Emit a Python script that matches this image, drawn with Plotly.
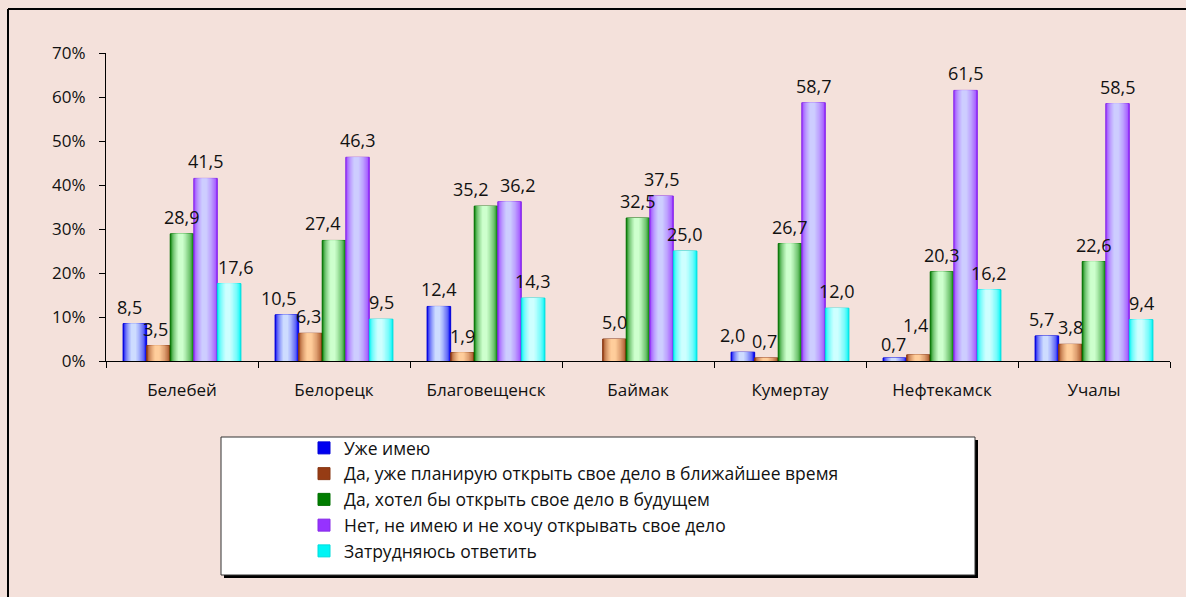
import plotly.graph_objects as go

# ---- data ----
categories = ["Белебей", "Белорецк", "Благовещенск", "Баймак", "Кумертау", "Нефтекамск", "Учалы"]
series_names = [
    "Уже имею",
    "Да, уже планирую открыть свое дело в ближайшее время",
    "Да, хотел бы открыть свое дело в будущем",
    "Нет, не имею и не хочу открывать свое дело",
    "Затрудняюсь ответить",
]
already_have = [8.5, 10.5, 12.4, None, 2.0, 0.7, 5.7]
planning_soon = [3.5, 6.3, 1.9, 5.0, 0.7, 1.4, 3.8]
would_like_future = [28.9, 27.4, 35.2, 32.5, 26.7, 20.3, 22.6]
no_dont_want = [41.5, 46.3, 36.2, 37.5, 58.7, 61.5, 58.5]
hard_to_say = [17.6, 9.5, 14.3, 25.0, 12.0, 16.2, 9.4]
series_values = [already_have, planning_soon, would_like_future, no_dont_want, hard_to_say]
y_ticks = [0, 10, 20, 30, 40, 50, 60, 70]

# ---- style ----
edge_colors = [(0, 0, 240), (150, 60, 20), (0, 125, 0), (150, 50, 255), (0, 245, 245)]
center_colors = [(205, 220, 255), (255, 205, 155), (205, 255, 205), (205, 205, 255), (205, 255, 255)]
BG = "#F4E1DB"
FONT = "'Open Sans', 'Liberation Sans', Arial, sans-serif"
# label nudges in pixels: (series index, category index) -> (dx, dy)
label_nudge = {
    (0, 0): (-5, 0), (1, 0): (-3, 0), (4, 0): (7, 0),
    (0, 1): (-8, 0), (1, 1): (-2, 0), (2, 1): (-11, 0),
    (2, 2): (-15, 0), (3, 2): (8, 0),
    (0, 4): (-10, 0), (1, 4): (-2, 0),
    (0, 5): (-1, -3), (1, 5): (-3, 13),
    (0, 6): (-5, 0),
}

W, H = 1186, 597
ML, MR, MT, MB = 106, 16, 53, 236
PW, PH = W - ML - MR, H - MT - MB


def px_x(p):
    return (p - ML) / PW


def px_y(p):
    return (H - MB - p) / PH


def mix(c1, c2, t):
    return "rgb(%d,%d,%d)" % tuple(round(a + (b - a) * t) for a, b in zip(c1, c2))


def fmt(v):
    return f"{v:.1f}".replace(".", ",")


n_series = len(series_values)
bar_w = 0.155
group_w = bar_w * n_series
N_LAYERS = 9

fig = go.Figure()
for i, vals in enumerate(series_values):
    off0 = -group_w / 2 + i * bar_w
    for k in range(N_LAYERS):
        frac = 1 - 0.88 * k / N_LAYERS
        wk = bar_w * frac
        shift = -0.06 * bar_w * (k / N_LAYERS)
        offk = off0 + (bar_w - wk) / 2 + shift
        t = (k / (N_LAYERS - 1)) ** 0.55
        fig.add_trace(go.Bar(
            x=categories, y=vals,
            name=series_names[i],
            width=[wk] * len(categories),
            offset=[offk] * len(categories),
            marker=dict(color=mix(edge_colors[i], center_colors[i], t),
                        line=dict(color=mix(edge_colors[i], (0, 0, 0), 0.1) if k == 0 else "rgba(0,0,0,0)",
                                  width=1 if k == 0 else 0)),
            showlegend=(k == 0),
            legendgroup=str(i),
            hoverinfo="skip",
        ))

annotations = []
for i, vals in enumerate(series_values):
    center_off = -group_w / 2 + (i + 0.5) * bar_w
    for j, v in enumerate(vals):
        if v is None:
            continue
        dx, dy = label_nudge.get((i, j), (0, 0))
        annotations.append(dict(
            x=j + center_off, y=v, xref="x", yref="y",
            text=fmt(v), showarrow=False, yanchor="bottom", xanchor="center",
            xshift=dx, yshift=3 + dy,
            font=dict(family=FONT, size=18, color="#111111"),
        ))

shapes = [
    dict(type="line", xref="paper", yref="paper", x0=px_x(8), x1=px_x(8), y0=px_y(9), y1=px_y(600),
         line=dict(color="#000000", width=2)),
    dict(type="line", xref="paper", yref="paper", x0=px_x(8), x1=px_x(1190), y0=px_y(9), y1=px_y(9),
         line=dict(color="#000000", width=2)),
    dict(type="rect", xref="paper", yref="paper", x0=px_x(224), x1=px_x(978), y0=px_y(440), y1=px_y(578),
         fillcolor="#000000", line=dict(width=0), layer="above"),
    dict(type="rect", xref="paper", yref="paper", x0=px_x(221), x1=px_x(975), y0=px_y(437), y1=px_y(575),
         fillcolor="#FFFFFF", line=dict(color="#333333", width=1), layer="above"),
]

fig.update_layout(
    width=W, height=H, autosize=False,
    margin=dict(l=ML, r=MR, t=MT, b=MB, pad=0),
    paper_bgcolor=BG, plot_bgcolor=BG,
    barmode="overlay",
    font=dict(family=FONT, size=17, color="#111111"),
    shapes=shapes,
    annotations=annotations,
    showlegend=True,
    legend=dict(
        x=px_x(304), y=px_y(430), xanchor="left", yanchor="top",
        bgcolor="rgba(0,0,0,0)", borderwidth=0,
        font=dict(family=FONT, size=17.5, color="#111111"),
        itemclick=False, itemdoubleclick=False, traceorder="normal",
    ),
    xaxis=dict(
        type="category", showline=True, linecolor="#000000", linewidth=1,
        ticks="outside", tickson="boundaries", ticklen=6, tickcolor="#000000",
        showgrid=False, zeroline=False, ticklabelstandoff=14,
        tickfont=dict(family=FONT, size=17), automargin=False,
    ),
    yaxis=dict(
        range=[0, 70], tickvals=y_ticks, ticktext=[f"{v}%" for v in y_ticks],
        showline=True, linecolor="#000000", linewidth=1,
        ticks="outside", ticklen=6, tickcolor="#000000",
        showgrid=False, zeroline=False, ticklabelstandoff=10,
        tickfont=dict(family=FONT, size=17), automargin=False,
    ),
)

fig.write_html("out.html", config={"displayModeBar": False})

# remove the default page margin so the figure sits at the window's top-left corner
with open("out.html", "r", encoding="utf-8") as f:
    html = f.read()
html = html.replace("<head>", "<head><style>html,body{margin:0;padding:0;background:%s;}</style>" % BG, 1)
with open("out.html", "w", encoding="utf-8") as f:
    f.write(html)
